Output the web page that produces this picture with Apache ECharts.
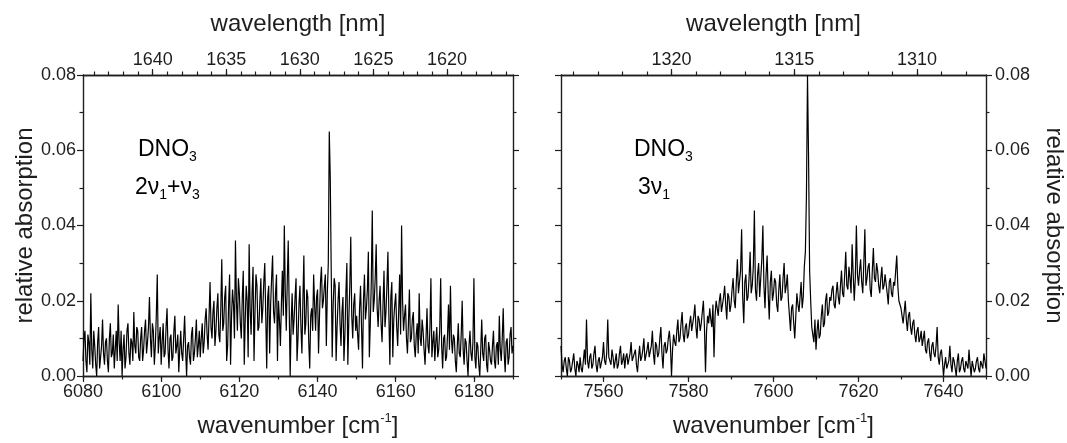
<!DOCTYPE html>
<html><head><meta charset="utf-8">
<script src="https://cdn.jsdelivr.net/npm/echarts@6/dist/echarts.min.js"></script>
<style>html,body{margin:0;padding:0;background:#fff}#c{width:1067px;height:443px}</style>
</head><body><div id="c"></div>
<script>
// ---- data (wavenumber grid start and step in cm^-1; relative absorption values) ----
const leftStart = 6080, rightStart = 7550, step = 0.25;
const leftRange = [6080, 6190];
const rightRange = [7550, 7650];
const leftWnLabels = [6080, 6100, 6120, 6140, 6160, 6180];
const rightWnLabels = [7560, 7580, 7600, 7620, 7640];
const leftWlLabels = [1640, 1635, 1630, 1625, 1620];
const rightWlLabels = [1320, 1315, 1310];
const yTicks = [0, 0.02, 0.04, 0.06, 0.08];
const leftAbs = [
.004,.010,.012,.004,.001,.011,.009,.003,.022,.007,.002,.012,.008,.003,.000,.009,.013,.002,.005,.008,
.015,.006,.003,.009,.010,.004,.001,.010,.014,.005,.006,.011,.002,.007,.012,.004,.019,.009,.004,.012,
.000,.007,.011,.002,.005,.012,.014,.006,.003,.010,.009,.004,.017,.008,.006,.013,.012,.005,.004,.010,
.013,.004,.007,.012,.015,.006,.009,.013,.021,.010,.005,.014,.012,.003,.008,.016,.027,.006,.010,.013,
.003,.009,.014,.005,.006,.013,.018,.007,.002,.010,.011,.004,.005,.012,.016,.006,.008,.011,.001,.007,
.012,.006,.004,.010,.016,.007,.000,.008,.009,.005,.003,.011,.013,.004,.006,.010,.015,.005,.008,.012,
.005,.010,.014,.006,.009,.015,.018,.011,.007,.016,.025,.013,.010,.017,.020,.008,.012,.018,.022,.011,
.009,.018,.031,.012,.014,.021,.024,.004,.008,.019,.027,.003,.016,.023,.019,.010,.036,.020,.012,.026,
.022,.014,.010,.021,.028,.003,.015,.024,.020,.005,.035,.018,.011,.022,.029,.004,.017,.027,.024,.012,
.013,.020,.026,.014,.018,.025,.030,.016,.002,.021,.024,.006,.019,.026,.032,.017,.014,.022,.027,.004,
.020,.015,.008,.019,.028,.016,.040,.022,.012,.025,.036,.018,.000,.014,.022,.011,.015,.021,.026,.004,
.010,.019,.024,.013,.006,.020,.032,.011,.014,.023,.021,.009,.002,.016,.018,.012,.027,.019,.012,.021,
.023,.006,.016,.025,.029,.018,.020,.024,.027,.008,.022,.030,.065,.053,.028,.005,.019,.026,.024,.004,
.013,.020,.025,.014,.008,.017,.021,.004,.011,.022,.030,.003,.015,.024,.037,.016,.010,.019,.022,.012,
.016,.011,.007,.018,.024,.013,.002,.020,.027,.015,.018,.023,.033,.005,.014,.025,.044,.017,.020,.026,
.035,.018,.013,.020,.024,.014,.009,.019,.028,.013,.017,.024,.033,.016,.003,.021,.025,.005,.015,.019,
.022,.013,.008,.017,.027,.011,.040,.020,.012,.016,.019,.010,.006,.014,.023,.009,.010,.015,.017,.008,
.005,.011,.014,.006,.022,.010,.008,.015,.012,.007,.003,.010,.018,.008,.006,.013,.026,.005,.009,.012,
.004,.009,.013,.005,.007,.012,.026,.008,.002,.010,.011,.004,.005,.011,.019,.007,.024,.010,.006,.011,
.010,.004,.001,.008,.014,.006,.005,.011,.020,.007,.003,.010,.009,.004,.000,.008,.012,.006,.004,.009,
.026,.005,.002,.009,.008,.003,.000,.007,.015,.006,.004,.010,.011,.003,.001,.009,.007,.004,.003,.008,
.012,.004,.002,.008,.009,.003,.016,.007,.004,.010,.018,.006,.001,.009,.010,.003,.005,.011,.013,.006,
.008];
const rightAbs = [
.008,.003,.001,.004,.005,.002,.000,.005,.004,.001,.002,.004,.006,.002,.000,.004,.003,.001,.005,.002,
.001,.004,.007,.003,.015,.004,.002,.005,.006,.002,.003,.006,.008,.003,.001,.004,.005,.002,.002,.005,
.009,.004,.003,.006,.015,.005,.004,.003,.007,.005,.002,.004,.006,.002,.003,.006,.008,.003,.004,.006,
.002,.005,.006,.003,.003,.006,.009,.004,.004,.006,.007,.003,.001,.005,.008,.004,.005,.007,.010,.004,
.004,.007,.009,.005,.005,.008,.012,.006,.003,.009,.008,.005,.006,.010,.013,.006,.002,.008,.009,.006,
.007,.010,.012,.008,.000,.007,.011,.009,.008,.012,.015,.009,.010,.014,.017,.011,.009,.013,.014,.010,
.011,.014,.016,.012,.012,.016,.019,.013,.010,.016,.015,.012,.014,.017,.020,.013,.001,.012,.016,.014,
.018,.015,.013,.019,.005,.016,.020,.018,.016,.020,.022,.017,.017,.021,.024,.019,.015,.022,.021,.017,
.019,.023,.026,.020,.018,.025,.031,.022,.022,.028,.039,.021,.014,.025,.027,.020,.021,.026,.033,.022,
.024,.029,.044,.023,.020,.027,.030,.021,.026,.031,.040,.024,.018,.027,.032,.022,.015,.025,.028,.020,
.022,.026,.025,.019,.017,.023,.027,.020,.021,.026,.030,.022,.024,.027,.020,.016,.012,.018,.019,.014,
.010,.016,.022,.019,.017,.021,.025,.018,.021,.029,.033,.048,.080,.058,.028,.020,.013,.011,.009,.015,
.007,.012,.015,.010,.011,.016,.019,.013,.014,.020,.022,.016,.017,.021,.020,.023,.024,.019,.018,.022,
.025,.021,.019,.024,.028,.022,.021,.027,.033,.024,.023,.029,.026,.022,.035,.027,.020,.026,.040,.027,
.024,.028,.031,.025,.022,.030,.039,.024,.026,.029,.030,.023,.021,.028,.034,.026,.025,.030,.028,.024,
.022,.026,.029,.023,.024,.027,.027,.022,.019,.025,.026,.022,.021,.025,.024,.028,.032,.024,.020,.019,
.018,.016,.014,.017,.020,.015,.012,.016,.017,.013,.011,.014,.015,.011,.009,.012,.013,.009,.010,.012,
.008,.010,.012,.007,.006,.009,.010,.006,.004,.008,.009,.006,.005,.008,.013,.005,.003,.006,.007,.004,
.000,.003,.005,.002,.002,.004,.008,.003,.001,.005,.004,.002,.000,.004,.006,.001,.002,.004,.005,.002,
.001,.004,.003,.002,.007,.003,.000,.004,.004,.001,.002,.004,.005,.002,.001,.004,.003,.002,.006,.004,
.002];

// ---- chart ----
const FONT = '"Liberation Sans", Arial, Helvetica, sans-serif';
const INK = '#1e1e1e';
const axLine = {show: true, onZero: false, lineStyle: {color: INK, width: 1.4}};
const tickStyle = {color: INK, width: 1.2};
const toPairs = (start, arr) => arr.map((v, i) => [start + i * step, v]);
function everyStep(a, b, d) { const out = []; for (let v = Math.ceil(a / d) * d; v <= b + 1e-9; v += d) out.push(v); return out; }

function xAxes(grid, range, wnLabels, wlLabels) {
  const wl = [1e7 / range[1], 1e7 / range[0]];
  const base = {type: 'value', gridIndex: grid, axisLine: axLine, splitLine: {show: false}};
  return [
    Object.assign({}, base, { position: 'bottom', min: range[0], max: range[1],
      axisTick: {length: 6, lineStyle: tickStyle, customValues: wnLabels},
      axisLabel: {margin: 7, fontSize: 18, color: INK, fontFamily: FONT, customValues: wnLabels,
        formatter: v => String(v)},
      name: '{a|wavenumber [cm}{s|-1}{a|]}', nameLocation: 'middle', nameGap: 36,
      nameTextStyle: {rich: {
        a: {fontSize: 24, fontFamily: FONT, color: INK, lineHeight: 28, verticalAlign: 'middle'},
        s: {fontSize: 13, fontFamily: FONT, color: INK, lineHeight: 13, verticalAlign: 'top'}}} }),
    Object.assign({}, base, { position: 'bottom', min: range[0], max: range[1],
      axisTick: {length: 3.5, lineStyle: tickStyle, customValues: everyStep(range[0], range[1], 10)},
      axisLabel: {show: false} }),
    Object.assign({}, base, { position: 'top', min: wl[0], max: wl[1], inverse: true,
      axisTick: {length: 6, lineStyle: tickStyle, customValues: wlLabels},
      axisLabel: {margin: 6, fontSize: 18, color: INK, fontFamily: FONT, customValues: wlLabels,
        formatter: v => String(Math.round(v))},
      name: 'wavelength [nm]', nameLocation: 'middle', nameGap: 39,
      nameTextStyle: {fontSize: 24, fontFamily: FONT, color: INK} }),
    Object.assign({}, base, { position: 'top', min: wl[0], max: wl[1], inverse: true,
      axisTick: {length: 3.5, lineStyle: tickStyle, customValues: everyStep(wl[0], wl[1], 1)},
      axisLabel: {show: false} })
  ];
}

function yAxis(grid, pos, labelled) {
  const o = { type: 'value', gridIndex: grid, position: pos, min: yTicks[0], max: yTicks[yTicks.length - 1],
    interval: yTicks[1] - yTicks[0],
    axisLine: axLine, axisTick: {length: 6, lineStyle: tickStyle},
    minorTick: {show: true, splitNumber: 2, length: 3.5, lineStyle: tickStyle},
    axisLabel: {show: labelled, margin: pos === 'left' ? 7 : 9, fontSize: 18, color: INK, fontFamily: FONT,
      formatter: v => v.toFixed(2)},
    splitLine: {show: false}, minorSplitLine: {show: false} };
  if (labelled) {
    o.name = 'relative absorption';
    o.nameLocation = 'middle';
    o.nameGap = pos === 'left' ? 41 : 56;
    o.nameRotate = pos === 'left' ? 90 : -90;
    o.nameTextStyle = {fontSize: 24, fontFamily: FONT, color: INK};
  }
  return o;
}

const subRich = {
  a: {fontSize: 23, fontFamily: FONT, color: INK, lineHeight: 30, verticalAlign: 'middle'},
  s: {fontSize: 14, fontFamily: FONT, color: INK, lineHeight: 14, verticalAlign: 'bottom'}
};

const chart = echarts.init(document.getElementById('c'), null, {renderer: 'canvas'});
chart.setOption({
  animation: false,
  backgroundColor: '#fff',
  grid: [
    {left: 83, right: 554, top: 75, bottom: 61},
    {left: 561, right: 77, top: 75, bottom: 61}
  ],
  xAxis: [...xAxes(0, leftRange, leftWnLabels, leftWlLabels), ...xAxes(1, rightRange, rightWnLabels, rightWlLabels)],
  yAxis: [yAxis(0, 'left', true), yAxis(0, 'right', false), yAxis(1, 'right', true), yAxis(1, 'left', false)],
  series: [
    {type: 'line', xAxisIndex: 0, yAxisIndex: 0, data: toPairs(leftStart, leftAbs), showSymbol: false,
      sampling: 'none', lineStyle: {color: '#000', width: 1.2}},
    {type: 'line', xAxisIndex: 4, yAxisIndex: 2, data: toPairs(rightStart, rightAbs), showSymbol: false,
      sampling: 'none', lineStyle: {color: '#000', width: 1.2}}
  ],
  graphic: [
    {type: 'text', left: 138, top: 138, style: {text: '{a|DNO}{s|3}', rich: subRich}},
    {type: 'text', left: 135, top: 176, style: {text: '{a|2ν}{s|1}{a|+ν}{s|3}', rich: subRich}},
    {type: 'text', left: 634, top: 138, style: {text: '{a|DNO}{s|3}', rich: subRich}},
    {type: 'text', left: 638, top: 176, style: {text: '{a|3ν}{s|1}', rich: subRich}}
  ]
});
</script>
</body></html>
